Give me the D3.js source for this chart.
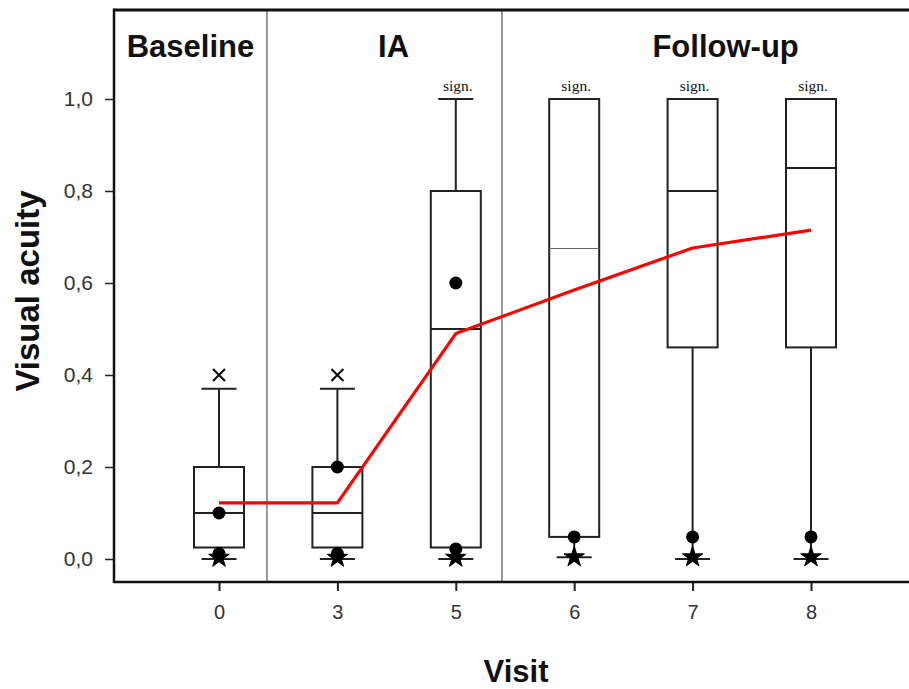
<!DOCTYPE html>
<html><head><meta charset="utf-8">
<script src="https://cdn.jsdelivr.net/npm/d3@7"></script>
<style>body{margin:0;background:#fff}svg{display:block}</style>
</head><body>
<svg id="c" width="909" height="689"></svg>
<script>
const visits = ["0","3","5","6","7","8"];
const q1 = [0.025, 0.025, 0.025, 0.048, 0.46, 0.46];
const median = [0.10, 0.10, 0.50, 0.675, 0.80, 0.85];
const q3 = [0.20, 0.20, 0.80, 1.00, 1.00, 1.00];
const whiskerLow = [0.0, 0.0, 0.0, 0.004, 0.0, 0.0];
const whiskerHigh = [0.37, 0.37, 1.00, 1.00, 1.00, 1.00];
const means = [0.122, 0.122, 0.49, 0.585, 0.676, 0.715];
const outliers = [[0.10, 0.012], [0.20, 0.012], [0.60, 0.022], [0.048], [0.048], [0.048]];
const extremes = [[0.40], [0.40], [], [], [], []];
const starVals = [[0.003], [0.003], [0.003], [0.004], [0.004], [0.004]];
const signif = [false, false, true, true, true, true];
const groups = [{name:"Baseline", from:"0"}, {name:"IA", from:"3"}, {name:"Follow-up", from:"6"}];
const yTicks = [0, 0.2, 0.4, 0.6, 0.8, 1.0];

const svg = d3.select("#c");
const mLeft = 114, mTop = 10, mBottom = 582, mRight = 909;
const x = d3.scalePoint().domain(visits).range([219, 811]);
const y = d3.scaleLinear().domain([0, 1]).range([559, 99]);
const step = x.step();
const sans = "Liberation Sans, Arial, sans-serif";

// separators
const sepX = [x("0") + 0.405*step, x("5") + 0.39*step];
svg.selectAll("line.sep").data(sepX).join("line")
  .attr("x1", d=>d).attr("x2", d=>d).attr("y1", mTop).attr("y2", mBottom)
  .attr("stroke", "#777").attr("stroke-width", 1.5);

// top frame
svg.append("line").attr("x1", mLeft).attr("x2", mRight).attr("y1", mTop).attr("y2", mTop)
  .attr("stroke", "#111").attr("stroke-width", 3);

// y axis
const yAxis = d3.axisLeft(y).tickValues(yTicks).tickSize(9).tickPadding(12)
  .tickFormat(d => d3.format(".1f")(d).replace(".", ","));
const ga = svg.append("g").attr("transform", `translate(${mLeft},0)`).call(yAxis);
ga.select(".domain").remove();
ga.selectAll(".tick line").attr("stroke", "#222").attr("stroke-width", 1.5);
ga.selectAll(".tick text").attr("font-family", sans)
  .attr("font-size", 21).attr("fill", "#333");
svg.append("line").attr("x1", mLeft).attr("x2", mLeft).attr("y1", mTop-1.5).attr("y2", mBottom+1)
  .attr("stroke", "#111").attr("stroke-width", 2.5);

// x axis
const xAxis = d3.axisBottom(x).tickSize(9).tickPadding(14);
const gx = svg.append("g").attr("transform", `translate(0,${mBottom})`).call(xAxis);
gx.select(".domain").remove();
gx.selectAll(".tick line").attr("stroke", "#222").attr("stroke-width", 2);
gx.selectAll(".tick text").attr("font-family", sans)
  .attr("font-size", 20).attr("fill", "#333");
svg.append("line").attr("x1", mLeft).attr("x2", mRight).attr("y1", mBottom).attr("y2", mBottom)
  .attr("stroke", "#111").attr("stroke-width", 2.5);

// boxes
const bw = 50, cw = 35;
const stroke = "#222";
visits.forEach((v, i) => {
  const cx = x(v);
  const g = svg.append("g");
  if (whiskerHigh[i] > q3[i]) {
    g.append("line").attr("x1", cx).attr("x2", cx).attr("y1", y(q3[i])).attr("y2", y(whiskerHigh[i]))
      .attr("stroke", stroke).attr("stroke-width", 2);
    g.append("line").attr("x1", cx-cw/2).attr("x2", cx+cw/2).attr("y1", y(whiskerHigh[i])).attr("y2", y(whiskerHigh[i]))
      .attr("stroke", stroke).attr("stroke-width", 2);
  }
  g.append("line").attr("x1", cx).attr("x2", cx).attr("y1", y(q1[i])).attr("y2", y(whiskerLow[i]))
    .attr("stroke", stroke).attr("stroke-width", 2);
  g.append("line").attr("x1", cx-cw/2).attr("x2", cx+cw/2).attr("y1", y(whiskerLow[i])).attr("y2", y(whiskerLow[i]))
    .attr("stroke", stroke).attr("stroke-width", 2);
  g.append("rect").attr("x", cx-bw/2).attr("y", y(q3[i])).attr("width", bw).attr("height", y(q1[i])-y(q3[i]))
    .attr("fill", "none").attr("stroke", stroke).attr("stroke-width", 2);
  g.append("line").attr("x1", cx-bw/2).attr("x2", cx+bw/2).attr("y1", y(median[i])).attr("y2", y(median[i]))
    .attr("stroke", i === 3 ? "#666" : stroke).attr("stroke-width", i === 3 ? 1.2 : 2);
  starVals[i].forEach(s => {
    g.append("path").attr("d", d3.symbol(d3.symbolStar, 130)())
      .attr("transform", `translate(${cx},${y(s)})`).attr("fill", "#000")
      .attr("stroke", "#000").attr("stroke-width", 1).attr("stroke-linejoin", "round");
  });
  outliers[i].forEach(o => {
    g.append("circle").attr("cx", cx).attr("cy", y(o)).attr("r", 6.5).attr("fill", "#000");
  });
  extremes[i].forEach(e => {
    const s = 6;
    g.append("path").attr("d", `M${cx-s},${y(e)-s}L${cx+s},${y(e)+s}M${cx-s},${y(e)+s}L${cx+s},${y(e)-s}`)
      .attr("stroke", "#111").attr("stroke-width", 2.2).attr("fill", "none");
  });
  if (signif[i]) {
    svg.append("text").attr("x", cx+2).attr("y", y(whiskerHigh[i]) - 8)
      .attr("text-anchor", "middle").attr("font-family", "Liberation Serif, Times New Roman, serif")
      .attr("font-size", 15.5).attr("fill", "#111").text("sign.");
  }
});

// mean line
const line = d3.line().x((d, i) => x(visits[i])).y(d => y(d));
svg.append("path").datum(means).attr("d", line)
  .attr("fill", "none").attr("stroke", "#ff0000").attr("stroke-width", 3.2).attr("stroke-linejoin", "round");

// group labels
const groupX = [(mLeft + sepX[0]) / 2, (x("3") + x("5")) / 2 - 3, x("7") + 33];
svg.selectAll("text.grp").data(groups).join("text")
  .attr("x", (d, i) => groupX[i]).attr("y", 57).attr("text-anchor", "middle")
  .attr("font-family", sans).attr("font-weight", "bold")
  .attr("font-size", 31).attr("fill", "#111").text(d => d.name);

// axis titles
svg.append("text").attr("transform", "translate(39,291) rotate(-90)").attr("text-anchor", "middle")
  .attr("font-family", sans).attr("font-weight", "bold")
  .attr("font-size", 33).attr("fill", "#111").text("Visual acuity");
svg.append("text").attr("x", 516).attr("y", 682).attr("text-anchor", "middle")
  .attr("font-family", sans).attr("font-weight", "bold")
  .attr("font-size", 31).attr("fill", "#111").text("Visit");
</script>
</body></html>
